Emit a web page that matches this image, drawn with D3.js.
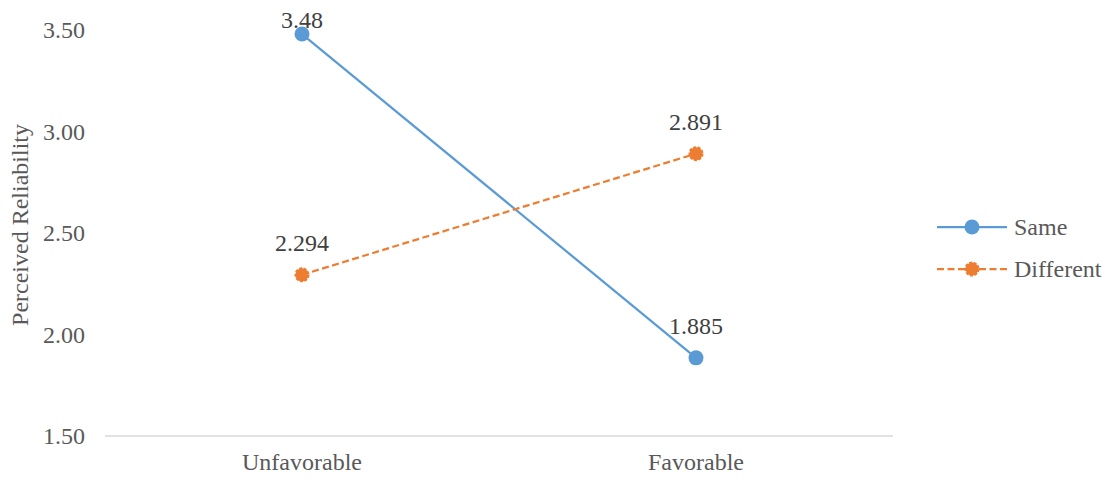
<!DOCTYPE html>
<html><head><meta charset="utf-8">
<script src="https://cdn.jsdelivr.net/npm/d3@7/dist/d3.min.js"></script>
</head><body style="margin:0"><svg id="c" width="1108" height="480" font-family="Liberation Serif, serif"></svg>
<script>
const categories = ["Unfavorable", "Favorable"];
const sameValues = [3.48, 1.885];
const differentValues = [2.294, 2.891];
const sameLabels = ["3.48", "1.885"];
const differentLabels = ["2.294", "2.891"];
const yTicks = [1.5, 2.0, 2.5, 3.0, 3.5];
const seriesNames = ["Same", "Different"];

const FONT = "Liberation Serif, serif";
const fs = "24px";
const svg = d3.select("#c");
const x = d3.scaleBand().domain(categories).range([105, 893]);
const y = d3.scaleLinear().domain([1.5, 3.5]).range([436, 30]);

function styleText(sel, color) {
  return sel.attr("font-family", FONT).style("font-family", FONT, "important").style("font-size", fs).style("fill", color || "#595959");
}

// baseline
svg.append("line").attr("x1", 105).attr("x2", 893).attr("y1", y(1.5)).attr("y2", y(1.5))
  .attr("stroke", "#D9D9D9").attr("stroke-width", 1.5);

// y ticks
const yAxis = d3.axisLeft(y).tickValues(yTicks).tickFormat(d3.format(".2f")).tickSize(0).tickPadding(20);
const ga = svg.append("g").attr("transform", "translate(105,0)").call(yAxis);
ga.select(".domain").remove();
ga.attr("font-family", FONT).attr("font-size", null);
styleText(ga.selectAll("text")).attr("dy", "0.33em");

// x labels
const xAxis = d3.axisBottom(x).tickSize(0).tickPadding(17);
const gx = svg.append("g").attr("transform", `translate(0,${y(1.5)})`).call(xAxis);
gx.select(".domain").remove();
gx.attr("font-family", FONT).attr("font-size", null);
styleText(gx.selectAll("text"));

// y title
styleText(svg.append("text").attr("transform", "translate(28,225) rotate(-90)").attr("text-anchor", "middle"))
  .text("Perceived Reliability");

const cx = c => x(c) + x.bandwidth() / 2;
const series = [
  {name: seriesNames[0], vals: sameValues, labels: sameLabels, color: "#5B9BD5", dash: null},
  {name: seriesNames[1], vals: differentValues, labels: differentLabels, color: "#ED7D31", dash: "7,3.5"}
];
const line = d3.line().x((d, i) => cx(categories[i])).y(d => y(d));

function marker(g, px, py, s) {
  g.append("circle").attr("cx", px).attr("cy", py).attr("r", s.dash ? 6.5 : 7.5)
    .attr("fill", s.color).attr("stroke", s.color).attr("stroke-width", s.dash ? 2 : 0)
    .attr("stroke-dasharray", s.dash ? "3,1.5" : null);
}

series.forEach(s => {
  svg.append("path").datum(s.vals).attr("d", line).attr("fill", "none")
    .attr("stroke", s.color).attr("stroke-width", 2.25).attr("stroke-dasharray", s.dash);
  s.vals.forEach((v, i) => {
    marker(svg, cx(categories[i]), y(v), s);
    styleText(svg.append("text").attr("x", cx(categories[i])).attr("y", Math.max(y(v) - 24, 28))
      .attr("text-anchor", "middle"), "#404040").text(s.labels[i]);
  });
});

// legend
const lg = svg.append("g");
series.forEach((s, i) => {
  const ly = 227 + i * 42;
  lg.append("line").attr("x1", 937).attr("x2", 1007).attr("y1", ly).attr("y2", ly)
    .attr("stroke", s.color).attr("stroke-width", 2.25).attr("stroke-dasharray", s.dash);
  marker(lg, 972, ly, s);
  styleText(lg.append("text").attr("x", 1014).attr("y", ly).attr("dy", "0.33em")).text(s.name);
});
</script></body></html>
